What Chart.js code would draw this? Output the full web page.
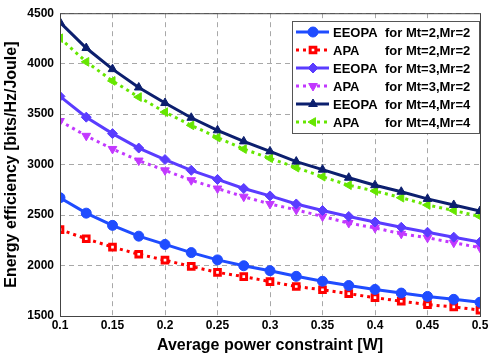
<!DOCTYPE html>
<html>
<head>
<meta charset="utf-8">
<script src="https://cdn.jsdelivr.net/npm/chart.js@4.4.1/dist/chart.umd.min.js"></script>
<style>
  html, body { margin: 0; padding: 0; background: #fff; }
  #wrap { width: 491px; height: 355px; }
</style>
</head>
<body>
<div id="wrap"><canvas id="myChart" width="491" height="355"></canvas></div>
<script>
// x values: average power constraint [W]
const power = [0.1, 0.125, 0.15, 0.175, 0.2, 0.225, 0.25, 0.275, 0.3, 0.325, 0.35, 0.375, 0.4, 0.425, 0.45, 0.475, 0.5];

const eeopa22 = [2672, 2519, 2398, 2291, 2209, 2128, 2056, 1998, 1949, 1893, 1844, 1802, 1763, 1727, 1694, 1665, 1636];
const apa22   = [2356, 2265, 2183, 2112, 2053, 1991, 1932, 1890, 1841, 1792, 1760, 1721, 1682, 1646, 1613, 1590, 1558];
const eeopa32 = [3676, 3470, 3307, 3164, 3050, 2943, 2853, 2763, 2690, 2610, 2545, 2486, 2431, 2379, 2330, 2281, 2232];
const apa32   = [3432, 3285, 3155, 3040, 2943, 2845, 2763, 2682, 2610, 2552, 2486, 2421, 2373, 2314, 2275, 2226, 2177];
const eeopa44 = [4410, 4155, 3946, 3764, 3610, 3464, 3340, 3230, 3131, 3030, 2950, 2870, 2796, 2731, 2660, 2600, 2540];
const apa44   = [4252, 4018, 3829, 3669, 3520, 3389, 3268, 3154, 3063, 2970, 2880, 2796, 2738, 2672, 2600, 2545, 2486];

const labels = ['EEOPA for Mt=2,Mr=2', 'APA    for Mt=2,Mr=2', 'EEOPA for Mt=3,Mr=2',
                'APA    for Mt=3,Mr=2', 'EEOPA for Mt=4,Mr=4', 'APA    for Mt=4,Mr=4'];

const pts = arr => arr.map((v, i) => ({ x: power[i], y: v }));

const solid = (label, data, color, style, rot) => ({
  label: label, data: pts(data), borderColor: color, backgroundColor: color,
  borderWidth: 3, pointStyle: style, pointRotation: rot || 0, pointRadius: 5,
  pointBackgroundColor: color, pointBorderColor: color, pointBorderWidth: 1, tension: 0
});
const dotted = (label, data, color, style, rot, hollow) => ({
  label: label, data: pts(data), borderColor: color, backgroundColor: color,
  borderWidth: 3, borderDash: [3, 4], pointStyle: style, pointRotation: rot || 0,
  pointRadius: hollow ? 4 : 5, pointBackgroundColor: hollow ? '#fff' : color,
  pointBorderColor: color, pointBorderWidth: hollow ? 3 : 1, tension: 0
});

const datasets = [
  solid(labels[0], eeopa22, '#1f4cff', 'circle'),
  dotted(labels[1], apa22, '#ff0000', 'rect', 0, true),
  solid(labels[2], eeopa32, '#5a3cff', 'rectRot'),
  dotted(labels[3], apa32, '#c238ff', 'triangle', 180),
  solid(labels[4], eeopa44, '#0c1f6e', 'triangle'),
  dotted(labels[5], apa44, '#66e600', 'triangle', -90)
];

// frame + matlab-like legend box
const boxLegend = {
  id: 'boxLegend',
  afterDraw(chart) {
    const c = chart.ctx, a = chart.chartArea;
    c.save();
    c.strokeStyle = '#444';
    c.lineWidth = 1;
    c.setLineDash([]);
    c.strokeRect(a.left + 0.5, a.top + 0.5, a.right - a.left, a.bottom - a.top);

    const bx = 292, by = 21, bw = 187, bh = 112;
    c.fillStyle = '#fff';
    c.fillRect(bx, by, bw, bh);
    c.strokeStyle = '#555';
    c.strokeRect(bx + 0.5, by + 0.5, bw, bh);
    c.font = 'bold 13px "Liberation Sans", Arial, sans-serif';
    c.textBaseline = 'middle';
    datasets.forEach((ds, i) => {
      const y = by + 11 + i * 18;
      c.strokeStyle = ds.borderColor;
      c.lineWidth = 3;
      c.setLineDash(ds.borderDash || []);
      c.beginPath();
      c.moveTo(bx + 4, y);
      c.lineTo(bx + 37, y);
      c.stroke();
      c.setLineDash([]);
      c.fillStyle = ds.pointBackgroundColor;
      c.strokeStyle = ds.pointBorderColor;
      c.lineWidth = ds.pointBorderWidth;
      Chart.helpers.drawPoint(c, {
        pointStyle: ds.pointStyle, radius: ds.pointRadius, rotation: ds.pointRotation,
        borderWidth: ds.pointBorderWidth
      }, bx + 21, y);
      c.fillStyle = '#000';
      const parts = ds.label.split(/\s+for\s+/);
      c.fillText(parts[0], bx + 41, y + 1);
      c.fillText('for ' + parts[1], bx + 93, y + 1);
    });
    c.restore();
  }
};

const tickFont = { family: '"Liberation Sans", Arial, sans-serif', size: 12, weight: 'bold' };
const titleFont = { family: '"Liberation Sans", Arial, sans-serif', size: 16, weight: 'bold' };

new Chart(document.getElementById('myChart').getContext('2d'), {
  type: 'line',
  data: { datasets: datasets },
  options: {
    responsive: false,
    animation: false,
    layout: { padding: { top: 9, right: 11, left: 0, bottom: 0 } },
    plugins: { legend: { display: false }, tooltip: { enabled: false } },
    scales: {
      x: {
        type: 'linear', min: 0.1, max: 0.5,
        ticks: { stepSize: 0.05, color: '#000', font: tickFont, padding: 2, maxRotation: 0,
                 callback: v => +v.toFixed(2) + '' },
        grid: { color: '#a8a8a8', drawTicks: false },
        border: { display: false, dash: [5, 4] },
        title: { display: true, text: 'Average power constraint [W]', color: '#000', font: titleFont, padding: { top: 0, bottom: 0 } },
        afterFit: s => { s.height = 39; }
      },
      y: {
        min: 1500, max: 4500,
        ticks: { stepSize: 500, color: '#000', font: tickFont, padding: 6, callback: v => String(v) },
        grid: { color: '#a8a8a8', drawTicks: false },
        border: { display: false, dash: [5, 4] },
        title: { display: true, text: 'Energy efficiency [bits/Hz/Joule]', color: '#000', font: titleFont, padding: { top: 2, bottom: 2 } },
        afterFit: s => { s.width = 60; }
      }
    }
  },
  plugins: [boxLegend]
});
</script>
</body>
</html>
